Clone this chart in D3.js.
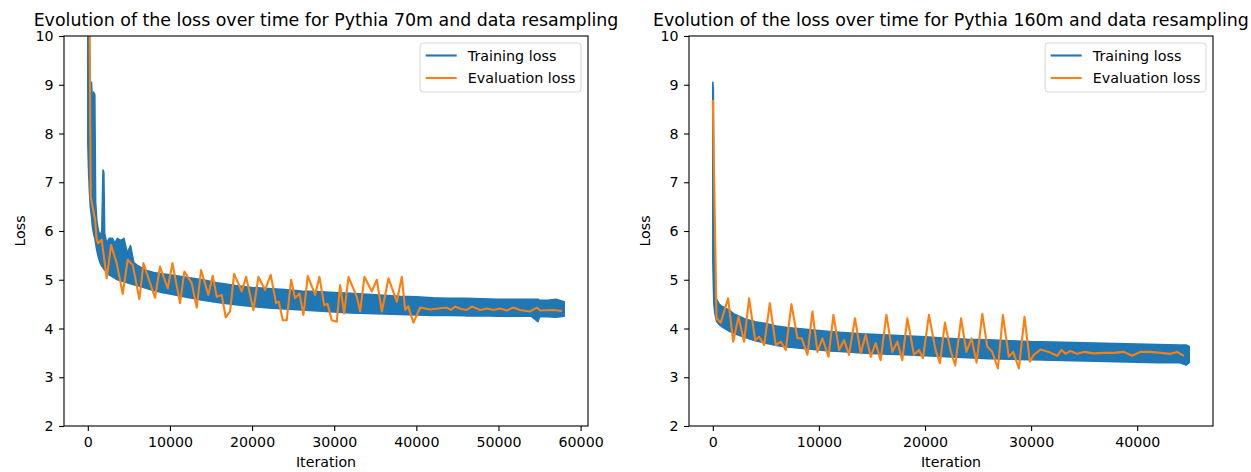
<!DOCTYPE html>
<html>
<head>
<meta charset="utf-8">
<script src="https://cdn.jsdelivr.net/npm/d3@7"></script>
<style>
  body { margin: 0; background: #fff; }
  text { font-family: "DejaVu Sans", sans-serif; fill: #000; }
</style>
</head>
<body>
<svg id="chart" width="1251" height="472"></svg>
<script>
// ---- Pythia 70m : training loss band (upper / lower envelope)
var trainIter70 = [0, 100, 200, 300, 450, 550, 700, 850, 950, 1100, 1300, 1500, 1700, 1850, 1950, 2050, 2300, 2600, 3000, 3300, 3600, 4000, 4400, 4800, 5200, 5600, 6000, 7000, 8000, 9000, 10000, 12000, 14000, 16000, 18000, 20000, 22000, 24000, 26000, 28000, 30000, 32000, 34000, 36000, 38000, 40000, 42000, 44000, 46000, 48000, 50000, 52000, 54000, 54800, 55000, 56000, 57000, 58000];
var trainHigh70 = [10.8, 10.5, 9.6, 9.0, 9.05, 8.6, 8.85, 8.8, 6.6, 6.2, 6.0, 5.9, 6.0, 7.25, 7.2, 5.95, 5.75, 5.85, 5.85, 5.75, 5.85, 5.8, 5.85, 5.55, 5.7, 5.35, 5.3, 5.2, 5.15, 5.12, 5.1, 5.05, 5.0, 4.93, 4.88, 4.84, 4.82, 4.8, 4.77, 4.76, 4.74, 4.72, 4.7, 4.68, 4.66, 4.65, 4.63, 4.62, 4.62, 4.61, 4.6, 4.6, 4.6, 4.6, 4.58, 4.58, 4.6, 4.55];
var trainLow70 = [7.8, 7.2, 6.8, 6.5, 6.3, 6.1, 5.95, 5.85, 5.75, 5.6, 5.45, 5.35, 5.28, 5.25, 5.22, 5.2, 5.15, 5.1, 5.06, 5.03, 5.0, 4.98, 4.96, 4.94, 4.92, 4.9, 4.88, 4.83, 4.78, 4.74, 4.71, 4.64, 4.58, 4.53, 4.49, 4.45, 4.42, 4.4, 4.38, 4.36, 4.34, 4.32, 4.31, 4.3, 4.29, 4.28, 4.27, 4.27, 4.26, 4.26, 4.25, 4.25, 4.25, 4.14, 4.24, 4.24, 4.23, 4.25];

// ---- Pythia 70m : evaluation loss
var evalIter70 = [200, 350, 880, 1080, 1280, 1690, 2300, 2830, 3520, 4250, 4860, 5470, 6280, 6770, 8180, 8790, 9730, 10300, 11230, 11760, 12650, 13260, 13790, 14680, 15210, 15700, 16300, 16790, 17320, 17810, 18740, 19270, 20160, 20770, 21590, 22270, 22920, 23250, 23740, 24220, 24750, 25240, 25770, 26250, 26780, 27680, 28200, 28770, 29200, 29700, 30310, 30720, 31210, 31740, 32750, 33160, 33680, 34580, 35190, 35800, 36610, 37620, 38230, 38640, 39000, 39650, 40460, 41680, 42700, 43710, 44200, 44730, 45400, 46150, 46760, 47770, 48600, 49400, 50200, 51000, 51830, 52600, 53860, 54680, 55100, 56700, 57720];
var evalLoss70 = [10.9, 6.70, 6.23, 5.82, 5.75, 5.82, 5.03, 5.71, 5.34, 4.71, 5.41, 5.30, 4.60, 5.34, 4.63, 5.27, 4.82, 5.34, 4.52, 5.17, 4.93, 4.43, 5.20, 4.69, 5.08, 4.65, 4.69, 4.23, 4.35, 5.12, 4.76, 5.06, 4.38, 5.06, 4.79, 5.10, 4.52, 4.55, 4.17, 4.17, 5.00, 4.62, 4.72, 4.28, 5.08, 4.69, 5.06, 4.48, 4.50, 4.17, 4.14, 4.89, 4.31, 5.06, 4.65, 4.35, 5.06, 4.76, 5.00, 4.35, 5.03, 4.55, 5.06, 4.38, 4.46, 4.12, 4.43, 4.39, 4.41, 4.43, 4.38, 4.45, 4.40, 4.38, 4.45, 4.38, 4.41, 4.38, 4.41, 4.37, 4.43, 4.38, 4.35, 4.43, 4.37, 4.38, 4.36];

// ---- Pythia 160m : training loss band
var trainIter160 = [0, 50, 100, 200, 350, 600, 900, 1500, 2000, 3000, 4000, 5000, 6000, 7000, 8000, 9000, 10000, 11000, 12000, 14000, 16000, 18000, 20000, 22000, 24000, 26000, 28000, 30000, 32000, 34000, 36000, 38000, 40000, 42000, 44000, 44600, 44900];
var trainHigh160 = [9.05, 8.9, 6.0, 4.75, 4.6, 4.5, 4.45, 4.38, 4.3, 4.2, 4.14, 4.1, 4.05, 4.02, 4.0, 3.98, 3.96, 3.94, 3.92, 3.89, 3.87, 3.85, 3.83, 3.8, 3.78, 3.77, 3.75, 3.73, 3.72, 3.71, 3.7, 3.69, 3.68, 3.67, 3.66, 3.66, 3.63];
var trainLow160 = [5.4, 4.9, 4.5, 4.3, 4.15, 4.08, 4.03, 3.95, 3.9, 3.82, 3.75, 3.7, 3.65, 3.62, 3.6, 3.58, 3.56, 3.54, 3.53, 3.5, 3.48, 3.46, 3.44, 3.42, 3.4, 3.38, 3.37, 3.36, 3.35, 3.34, 3.33, 3.32, 3.31, 3.3, 3.3, 3.25, 3.3];

// ---- Pythia 160m : evaluation loss
var evalIter160 = [0, 350, 750, 1440, 1920, 2420, 2950, 3420, 3990, 4360, 4840, 5370, 5930, 6410, 6880, 7410, 7980, 8380, 8920, 9390, 9860, 10330, 10900, 11370, 11900, 12370, 12840, 13400, 13940, 14410, 14880, 15350, 15820, 16360, 16920, 17390, 17860, 18330, 18960, 19430, 19810, 20370, 20990, 21410, 21880, 22410, 22850, 23400, 23900, 24380, 24860, 25400, 25870, 26340, 26870, 27340, 27900, 28310, 28850, 29380, 29880, 30260, 30890, 31670, 32460, 32870, 33240, 33710, 34340, 34970, 35910, 36850, 37800, 38740, 39520, 40310, 41250, 42190, 43130, 43760, 44390];
var evalLoss160 = [8.69, 4.21, 4.12, 4.62, 3.73, 4.24, 3.73, 4.62, 3.76, 3.83, 3.66, 4.52, 3.66, 3.73, 3.56, 4.50, 3.80, 3.80, 3.46, 4.35, 3.52, 3.80, 3.42, 4.28, 3.56, 3.76, 3.46, 4.21, 3.49, 3.87, 3.42, 3.70, 3.35, 4.28, 3.52, 3.73, 3.35, 4.21, 3.46, 3.56, 3.39, 4.28, 3.56, 3.29, 4.12, 3.55, 3.24, 4.21, 3.52, 3.80, 3.30, 4.30, 3.63, 3.52, 3.18, 4.28, 3.42, 3.52, 3.18, 4.24, 3.32, 3.46, 3.57, 3.52, 3.44, 3.56, 3.48, 3.54, 3.48, 3.52, 3.49, 3.50, 3.50, 3.52, 3.44, 3.52, 3.52, 3.50, 3.48, 3.52, 3.44];

var yTicks = [2, 3, 4, 5, 6, 7, 8, 9, 10];
var xTicks70 = [0, 10000, 20000, 30000, 40000, 50000, 60000];
var xTicks160 = [0, 10000, 20000, 30000, 40000];
var legendLabels = ["Training loss", "Evaluation loss"];

var blue = "#1f77b4", orange = "#ff7f0e";
var plotTop = 36, plotBottom = 426;
var svg = d3.select("#chart");

function drawPanel(p) {
    var x = d3.scaleLinear().domain(p.xDomain).range([p.left, p.right]);
    var y = d3.scaleLinear().domain([2, 10]).range([plotBottom, plotTop]);
    var g = svg.append("g");

    g.append("clipPath").attr("id", p.id)
        .append("rect")
        .attr("x", p.left).attr("y", plotTop)
        .attr("width", p.right - p.left).attr("height", plotBottom - plotTop);

    // training loss as a filled band between envelopes
    var rows = p.trainIter.map(function(it, i) {
        return {it: it, hi: p.trainHigh[i], lo: p.trainLow[i]};
    });
    var band = d3.area()
        .x(function(d) { return x(d.it); })
        .y0(function(d) { return y(d.lo); })
        .y1(function(d) { return y(d.hi); });
    g.append("path").datum(rows)
        .attr("clip-path", "url(#" + p.id + ")")
        .attr("d", band)
        .attr("fill", blue)
        .attr("stroke", blue)
        .attr("stroke-width", 1.6)
        .attr("stroke-linejoin", "round");

    // evaluation loss line
    var line = d3.line()
        .x(function(d, i) { return x(p.evalIter[i]); })
        .y(function(d) { return y(d); });
    g.append("path").datum(p.evalLoss)
        .attr("clip-path", "url(#" + p.id + ")")
        .attr("d", line)
        .attr("fill", "none")
        .attr("stroke", orange)
        .attr("stroke-width", 2.1)
        .attr("stroke-linejoin", "round");

    // axes
    var xAxis = g.append("g")
        .attr("transform", "translate(0," + plotBottom + ")")
        .call(d3.axisBottom(x).tickValues(p.xTicks).tickFormat(d3.format("d")).tickSize(4.9).tickPadding(6));
    var yAxis = g.append("g")
        .attr("transform", "translate(" + p.left + ",0)")
        .call(d3.axisLeft(y).tickValues(yTicks).tickFormat(d3.format("d")).tickSize(4.9).tickPadding(5.5));
    [xAxis, yAxis].forEach(function(a) {
        a.select(".domain").remove();
        a.selectAll(".tick line").attr("stroke", "#000").attr("stroke-width", 1.1);
        a.selectAll(".tick text").style("font-size", "14.2px").style("font-family", "DejaVu Sans");
    });

    // frame
    g.append("rect")
        .attr("x", p.left).attr("y", plotTop)
        .attr("width", p.right - p.left).attr("height", plotBottom - plotTop)
        .attr("fill", "none").attr("stroke", "#000").attr("stroke-width", 1.1);

    // titles
    g.append("text")
        .attr("x", (p.left + p.right) / 2).attr("y", 26)
        .attr("text-anchor", "middle")
        .style("font-size", "17.4px")
        .text(p.title);
    g.append("text")
        .attr("x", (p.left + p.right) / 2).attr("y", 467)
        .attr("text-anchor", "middle")
        .style("font-size", "14.2px")
        .text("Iteration");
    g.append("text")
        .attr("transform", "translate(" + (p.left - 39) + "," + ((plotTop + plotBottom) / 2) + ") rotate(-90)")
        .attr("text-anchor", "middle")
        .style("font-size", "14.2px")
        .text("Loss");

    // legend
    var lg = g.append("g");
    var box = lg.append("rect");
    var texts = [];
    legendLabels.forEach(function(lab, i) {
        texts.push(lg.append("text")
            .attr("y", 55.5 + i * 22.5)
            .attr("dy", "0.35em")
            .style("font-size", "14.3px")
            .text(lab));
    });
    var tw = d3.max(texts, function(t) { return t.node().getComputedTextLength(); });
    var hl = 31;
    var bw = 5.6 + hl + 11.1 + tw + 5.6;
    var bx = p.right - 7 - bw;
    box.attr("x", bx).attr("y", 43).attr("width", bw).attr("height", 49)
        .attr("rx", 3).attr("fill", "#fff").attr("fill-opacity", 0.8)
        .attr("stroke", "#d6d6d6").attr("stroke-width", 1);
    [blue, orange].forEach(function(c, i) {
        lg.append("line")
            .attr("x1", bx + 5.6).attr("x2", bx + 5.6 + hl)
            .attr("y1", 55.5 + i * 22.5).attr("y2", 55.5 + i * 22.5)
            .attr("stroke", c).attr("stroke-width", 2.1);
        texts[i].attr("x", bx + 5.6 + hl + 11.1);
    });
}

drawPanel({
    id: "clip70", left: 64, right: 588, xDomain: [-2900, 60900], xTicks: xTicks70,
    title: "Evolution of the loss over time for Pythia 70m and data resampling",
    trainIter: trainIter70, trainHigh: trainHigh70, trainLow: trainLow70,
    evalIter: evalIter70, evalLoss: evalLoss70
});
drawPanel({
    id: "clip160", left: 689, right: 1213, xDomain: [-2245, 47145], xTicks: xTicks160,
    title: "Evolution of the loss over time for Pythia 160m and data resampling",
    trainIter: trainIter160, trainHigh: trainHigh160, trainLow: trainLow160,
    evalIter: evalIter160, evalLoss: evalLoss160
});
</script>
</body>
</html>
